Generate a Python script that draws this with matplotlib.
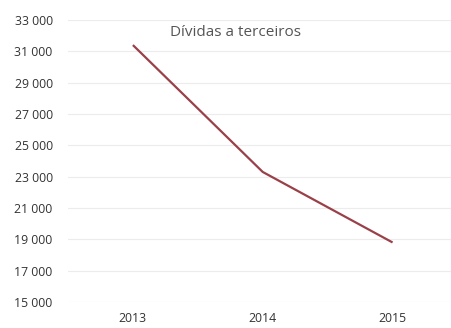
import matplotlib
matplotlib.use('Agg')
import matplotlib.pyplot as plt
from matplotlib.ticker import FuncFormatter

# Data
years = ["2013", "2014", "2015"]
dividas = [31400, 23300, 18800]
y_ticks = [15000, 17000, 19000, 21000, 23000, 25000, 27000, 29000, 31000, 33000]

plt.rcParams['font.family'] = ['Open Sans', 'DejaVu Sans']

fig = plt.figure(figsize=(4.51, 3.28), dpi=100)
ax = fig.add_axes([68 / 451, 1 - 302 / 328, 1 - 68 / 451, (302 - 20) / 328])

x = list(range(len(years)))
ax.plot(x, dividas, color='#9a4049', linewidth=1.6, solid_capstyle='butt')

ax.set_xlim(-0.5, 2.45)
ax.set_ylim(y_ticks[0], y_ticks[-1])
ax.set_yticks(y_ticks)
ax.yaxis.set_major_formatter(FuncFormatter(lambda v, p: f"{int(v):,}".replace(",", " ")))
ax.set_xticks(x)
ax.set_xticklabels(years)

ax.grid(axis='y', color='#ececec', linewidth=0.8)
ax.set_axisbelow(True)
for s in ax.spines.values():
    s.set_visible(False)
ax.tick_params(axis='both', length=0, labelsize=8.8, labelcolor='#333333')
ax.tick_params(axis='y', pad=11)
ax.tick_params(axis='x', pad=7)

fig.text(236 / 451, 1 - 32 / 328, "Dívidas a terceiros", ha='center', va='center',
         fontsize=11, color='#555555')

fig.savefig('out.png', dpi=100)
plt.close(fig)
